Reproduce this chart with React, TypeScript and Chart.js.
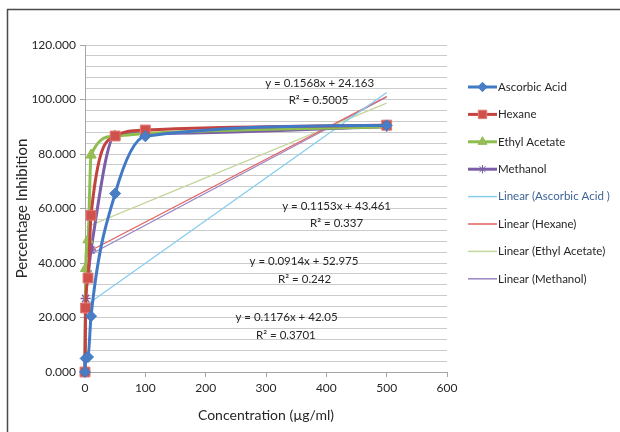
import React, { useEffect, useRef } from 'react';
import { Chart, registerables } from 'chart.js';
import { drawPoint } from 'chart.js/helpers';

Chart.register(...registerables);

// ---- data ----
const concentrations = [0, 1, 5, 10, 50, 100, 500];
const ascorbicAcid = [0, 5.0, 5.5, 20.5, 65.5, 86.5, 90.5];
const hexane = [0, 23.5, 34.5, 57.5, 86.6, 88.8, 90.6];
const ethylAcetate = [0, 38.0, 48.5, 79.6, 86.6, 87.5, 90.0];
const methanol = [0, 27.0, 36.0, 44.8, 87.0, 87.5, 90.0];

const trendX = [0, 500];
const trendAscorbic = [24.2, 102.6];
const trendHexane = [43.5, 101.1];
const trendEthyl = [53.0, 98.7];
const trendMethanol = [42.1, 100.9];

const seriesNames = ['Ascorbic Acid', 'Hexane', 'Ethyl Acetate', 'Methanol'];
const trendNames = ['Linear (Ascorbic Acid )', 'Linear (Hexane)', 'Linear (Ethyl Acetate)', 'Linear (Methanol)'];
const equations = ['y = 0.1568x + 24.163', 'y = 0.1153x + 43.461', 'y = 0.0914x + 52.975', 'y = 0.1176x + 42.05'];
const rSquared = ['R² = 0.5005', 'R² = 0.337', 'R² = 0.242', 'R² = 0.3701'];

// label anchors (data coordinates) for equation / R² texts
const eqAnchorX = [389, 417, 363, 334];
const eqAnchorY = [105.9, 60.7, 40.7, 19.9];
const r2AnchorX = [387, 417, 364, 333];
const r2AnchorY = [99.8, 54.7, 34.1, 13.3];

const FONT = 'Lato, "DejaVu Sans", sans-serif';
const TEXT = '#262626';

const seriesColors = ['#4279C6', '#C4433F', '#8DBE4E', '#7B5EA7'];
const markerFill = ['#4A7EC4', '#D0504B', '#9BBB59', '#7B5EA7'];
const pointStyles = ['rectRot', 'rect', 'triangle', 'star'];
const pointRadii = [5.5, 7, 6, 5];
const trendColors = ['#86CDEE', '#E0625F', '#C3D69B', '#9A84C2'];

function toXY(ys: number[], xs: number[]) {
  return ys.map((y, i) => ({ x: xs[i], y }));
}

const overlayPlugin = {
  id: 'overlay',
  afterDraw(chart: any) {
    const ctx = chart.ctx as CanvasRenderingContext2D;
    const xs = chart.scales.x;
    const ys = chart.scales.y;
    ctx.save();
    // outer frame (left + top)
    ctx.strokeStyle = '#4a4a4a';
    ctx.lineWidth = 1.5;
    ctx.beginPath();
    ctx.moveTo(7.5, 432);
    ctx.lineTo(7.5, 9.5);
    ctx.lineTo(620, 9.5);
    ctx.stroke();

    // equations
    ctx.fillStyle = TEXT;
    ctx.font = `11.5px ${FONT}`;
    ctx.textAlign = 'center';
    ctx.textBaseline = 'middle';
    for (let i = 0; i < equations.length; i++) {
      ctx.fillText(equations[i], xs.getPixelForValue(eqAnchorX[i]), ys.getPixelForValue(eqAnchorY[i]));
      ctx.fillText(rSquared[i], xs.getPixelForValue(r2AnchorX[i]), ys.getPixelForValue(r2AnchorY[i]));
    }

    // legend
    const lx0 = 468;
    const lx1 = 497;
    const ly0 = 87;
    const step = 27.4;
    ctx.textAlign = 'left';
    ctx.font = `11.5px ${FONT}`;
    chart.data.datasets.forEach((ds: any, i: number) => {
      const y = ly0 + i * step;
      ctx.strokeStyle = ds.borderColor;
      ctx.lineWidth = i < 4 ? 3 : 1.5;
      ctx.beginPath();
      ctx.moveTo(lx0, y);
      ctx.lineTo(lx1, y);
      ctx.stroke();
      if (i < 4) {
        ctx.fillStyle = ds.pointBackgroundColor;
        ctx.strokeStyle = ds.pointBorderColor;
        ctx.lineWidth = 1;
        drawPoint(ctx, { pointStyle: ds.pointStyle, radius: ds.pointRadius * 0.85, rotation: 0, borderWidth: ds.pointStyle === 'star' ? 1.5 : 1 } as any, (lx0 + lx1) / 2, y);
      }
      ctx.fillStyle = i === 4 ? '#3D6496' : TEXT;
      ctx.fillText(ds.label, lx1 + 1, y);
    });
    ctx.restore();
  },
};

export default function App() {
  const ref = useRef<HTMLCanvasElement | null>(null);

  useEffect(() => {
    if (!ref.current) return;
    const series = [ascorbicAcid, hexane, ethylAcetate, methanol];
    const trends = [trendAscorbic, trendHexane, trendEthyl, trendMethanol];
    const datasets: any[] = [];
    series.forEach((s, i) => {
      datasets.push({
        label: seriesNames[i],
        data: toXY(s, concentrations),
        borderColor: seriesColors[i],
        backgroundColor: markerFill[i],
        borderWidth: 3,
        pointStyle: pointStyles[i],
        pointRadius: pointRadii[i],
        pointBackgroundColor: markerFill[i],
        pointBorderColor: pointStyles[i] === 'star' ? seriesColors[i] : (i === 1 ? '#E07A76' : seriesColors[i]),
        pointBorderWidth: pointStyles[i] === 'star' ? 1.5 : 1,
        cubicInterpolationMode: 'monotone',
        tension: 0.4,
        clip: false,
      });
    });
    trends.forEach((t, i) => {
      datasets.push({
        label: trendNames[i],
        data: toXY(t, trendX),
        borderColor: trendColors[i],
        backgroundColor: trendColors[i],
        borderWidth: 1.3,
        pointRadius: 0,
        tension: 0,
        clip: false,
      });
    });

    const chart = new Chart(ref.current, {
      type: 'line',
      data: { datasets },
      options: {
        responsive: false,
        animation: false,
        events: [],
        layout: { padding: { top: 45, right: 173, left: 0, bottom: 0 } },
        plugins: {
          legend: { display: false },
          tooltip: { enabled: false },
        },
        scales: {
          x: {
            type: 'linear',
            min: 0,
            max: 600,
            ticks: {
              stepSize: 100,
              color: TEXT,
              font: { family: FONT, size: 12 },
              padding: 4,
            },
            grid: {
              drawOnChartArea: false,
              drawTicks: true,
              tickLength: 5,
              tickColor: '#a6a6a6',
            },
            border: { color: '#a6a6a6', width: 1 },
            title: {
              display: true,
              text: 'Concentration (µg/ml)',
              color: TEXT,
              font: { family: FONT, size: 14 },
              padding: { top: 0, bottom: 8.5 },
            },
            afterFit: (s: any) => { s.height = 60; },
          },
          y: {
            type: 'linear',
            min: 0,
            max: 120,
            ticks: {
              stepSize: 4,
              autoSkip: false,
              color: TEXT,
              font: { family: FONT, size: 12 },
              padding: 4,
              callback: (v: any) => (Math.round(v) % 20 === 0 ? Number(v).toFixed(3) : ''),
            },
            grid: {
              color: '#cbcbcb',
              lineWidth: 1,
              tickLength: 5,
              tickColor: (c: any) => (c.tick && Math.round(c.tick.value) % 20 === 0 ? '#a6a6a6' : 'rgba(0,0,0,0)'),
            },
            border: { color: '#a6a6a6', width: 1 },
            title: {
              display: true,
              text: 'Percentage Inhibition',
              color: TEXT,
              font: { family: FONT, size: 15 },
              padding: { top: 13, bottom: 0 },
            },
            afterFit: (s: any) => { s.width = 85; },
          },
        },
      } as any,
      plugins: [overlayPlugin],
    });
    return () => chart.destroy();
  }, []);

  return (
    <div style={{ position: 'absolute', left: 0, top: 0, width: 620, height: 432, background: '#fff' }}>
      <canvas ref={ref} width={620} height={432} style={{ width: 620, height: 432, display: 'block' }} />
    </div>
  );
}
